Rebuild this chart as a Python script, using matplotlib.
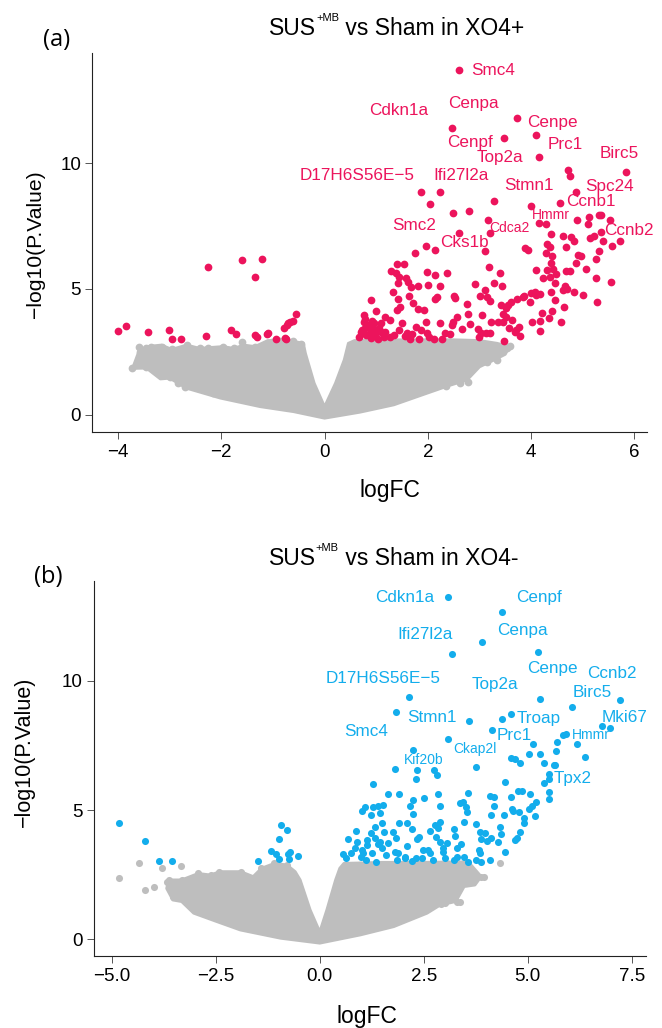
import matplotlib
matplotlib.use('Agg')
import matplotlib.pyplot as plt
import numpy as np

plt.rcParams['font.family'] = ['Liberation Sans', 'DejaVu Sans']

GRAY = '#BEBEBE'
RED = '#EC145C'
BLUE = '#13ADEC'

# ---- panel (a): XO4+ ----
# significant genes (logFC, -log10 P)
A_SIG_X = [
    -4.00, -3.84, -3.42, -3.02, -2.96, -2.78, -2.30, -2.26, -1.82, -1.71,
    -1.60, -1.35, -1.34, -1.31, -1.21, -1.12, -1.09, -0.94, -0.79, -0.76,
    -0.73, -0.70, -0.66, -0.62, -0.55, -0.74,
    2.61, 2.46, 3.72, 3.47, 4.10, 4.16, 4.72, 4.75, 5.84, 1.87,
    2.23, 2.04, 3.28, 2.48, 2.80, 3.99, 4.86, 4.56, 3.17, 3.20,
    2.60, 1.96, 2.13, 1.75, 4.15, 4.29, 4.88, 5.13, 5.11, 5.31,
    5.36, 5.53, 5.35, 5.14, 5.21, 5.40, 5.57, 5.72, 4.39, 4.61,
    4.77, 4.83, 4.31, 4.37, 4.68, 4.91, 4.96, 5.32, 5.26, 5.06,
    4.87, 4.75, 4.68, 5.26, 5.55, 5.00, 4.83, 5.28, 3.10, 3.89,
    3.94, 4.29, 4.40, 4.39, 4.10, 4.31, 4.42, 4.49, 4.37, 4.23,
    4.46, 4.65, 4.70, 4.62, 4.38, 4.46, 4.64, 4.58, 4.34, 4.40,
    4.22, 4.17, 4.17, 4.01, 3.77, 3.71, 3.79, 3.97, 3.86, 3.99,
    4.10, 4.17, 4.08, 3.85, 3.73, 3.62, 3.55, 3.51, 3.41, 3.46,
    3.52, 3.63, 3.46, 3.35, 3.58, 3.68, 3.48, 3.18, 3.40, 3.44,
    3.28, 3.10, 3.15, 3.21, 3.01, 2.92, 2.76, 2.57, 2.77, 2.81,
    2.49, 2.46, 2.66, 2.97, 3.03, 3.12, 3.20, 3.00, 2.34, 2.27,
    2.43, 3.05, 3.23, 1.28, 1.41, 1.53, 1.39, 1.45, 1.58, 1.61,
    1.68, 1.81, 2.00, 1.99, 2.14, 2.23, 2.37, 2.50, 2.53, 2.17,
    2.13, 1.43, 1.32, 1.63, 1.43, 1.47, 1.40, 1.71, 1.81, 1.92,
    0.89, 1.00, 1.17, 1.26, 1.45, 1.59, 1.70, 1.77, 1.86, 1.99,
    1.83, 1.66, 1.55, 1.35, 1.26, 1.10, 0.98, 0.88, 0.79, 0.71,
    0.67, 0.76, 0.77, 0.91, 0.95, 0.98, 1.03, 1.18, 2.23, 2.03,
    2.12, 1.50, 1.96, 0.72, 0.80, 0.85, 0.90, 1.05, 1.10, 1.15,
    0.78, 0.88, 0.93,
]
A_SIG_Y = [
    3.33, 3.53, 3.29, 3.37, 3.02, 3.02, 3.13, 5.86, 3.37, 3.21,
    6.14, 5.46, 3.17, 3.08, 6.21, 3.20, 3.24, 3.00, 3.44, 3.06,
    3.57, 3.66, 3.70, 3.74, 3.99, 3.00,
    13.69, 11.39, 11.80, 11.01, 11.13, 10.25, 9.73, 9.51, 9.64, 8.85,
    8.87, 8.37, 8.49, 8.01, 8.09, 8.30, 8.87, 8.41, 7.73, 7.21,
    7.23, 6.72, 6.56, 6.42, 7.61, 7.59, 7.75, 7.86, 7.59, 7.93,
    7.93, 7.73, 7.28, 7.02, 7.12, 6.92, 6.72, 6.92, 7.18, 7.11,
    7.08, 6.92, 6.80, 6.66, 6.66, 6.35, 6.31, 6.51, 6.21, 5.81,
    6.02, 5.72, 5.72, 5.44, 5.29, 4.77, 4.87, 4.48, 6.50, 6.62,
    6.55, 6.42, 6.31, 6.02, 5.77, 5.74, 5.78, 5.60, 5.46, 5.44,
    5.25, 5.13, 5.01, 4.97, 4.89, 4.58, 4.28, 3.70, 3.86, 4.12,
    4.06, 3.73, 3.34, 3.67, 3.49, 3.37, 3.14, 4.48, 4.73, 4.83,
    4.75, 4.81, 4.87, 4.69, 4.59, 4.48, 4.38, 4.23, 4.38, 3.99,
    3.87, 3.75, 3.67, 3.69, 3.46, 3.29, 2.95, 5.86, 5.65, 5.13,
    5.23, 4.95, 4.69, 4.52, 4.71, 5.21, 4.39, 3.90, 3.99, 3.62,
    3.67, 3.57, 3.40, 3.40, 3.26, 3.24, 3.24, 3.10, 3.26, 3.01,
    3.20, 3.98, 3.67, 5.72, 6.01, 5.99, 5.65, 5.49, 5.44, 5.29,
    5.08, 5.12, 5.15, 5.68, 5.54, 5.12, 5.62, 4.72, 4.66, 4.67,
    4.59, 5.25, 4.89, 4.72, 4.62, 4.28, 4.18, 4.46, 4.22, 4.18,
    4.55, 4.11, 3.89, 3.75, 3.37, 3.24, 3.21, 3.49, 3.37, 3.24,
    3.01, 3.00, 3.13, 3.17, 3.08, 3.30, 3.37, 3.46, 3.46, 3.29,
    3.10, 3.97, 3.69, 3.73, 3.63, 3.18, 3.02, 3.28, 3.63, 3.08,
    3.00, 3.66, 3.70, 3.35, 3.15, 3.55, 3.05, 3.45, 3.65, 3.10,
    3.80, 3.25, 3.40,
]
# outline of the dense non-significant cloud
A_CLOUD_X = [-3.72, -3.60, -3.40, -3.16, -2.96, -2.67, -2.42, -2.17, -1.97, -1.76,
             -1.56, -1.35, -1.10, -0.86, -0.61, -0.41, -0.37, -0.20, 0.00, 0.21,
             0.38, 0.46, 0.58, 1.50, 2.50, 3.00, 3.34, 3.58, 3.50, 3.29,
             3.15, 3.00, 2.76, 2.40, 1.98, 1.34, 0.69, 0.00, -0.60, -1.25,
             -2.02, -2.67, -3.00, -3.18, -3.45]
A_CLOUD_Y = [1.84, 2.50, 2.72, 2.77, 2.60, 2.77, 2.64, 2.68, 2.71, 2.64,
             2.77, 2.71, 2.95, 2.95, 2.92, 2.84, 2.44, 1.25, 0.32, 1.25,
             2.18, 2.84, 2.95, 2.98, 2.98, 2.95, 2.84, 2.71, 2.40, 2.18,
             2.05, 1.90, 1.38, 1.15, 0.85, 0.39, 0.10, -0.14, 0.12, 0.32,
             0.66, 1.05, 1.45, 1.42, 1.85]
# scattered non-significant genes at the cloud edge
A_NS_X = [-3.72, -3.57, -3.45, -3.14, -3.45, -3.29, -3.00, -2.83, 3.54, 3.34,
          2.63, 2.78, 3.60, 3.15, -1.02, -1.60, 2.35, -2.25, -3.60, -3.37,
          -2.96, -2.67, -2.42, -1.97, -1.76, -1.35, -0.86, -0.61, -2.17, -2.70,
          3.30, -0.45]
A_NS_Y = [1.84, 2.51, 2.67, 2.71, 1.91, 2.00, 1.49, 1.25, 2.64, 2.18,
          1.25, 1.30, 2.72, 2.10, 2.90, 2.90, 1.15, 2.64, 2.70, 2.71,
          2.60, 2.77, 2.64, 2.71, 2.64, 2.71, 2.95, 2.92, 0.85, 1.10,
          2.75, 2.80]
A_LABELS = ['Smc4', 'Cenpa', 'Cdkn1a', 'Cenpe', 'Cenpf', 'Prc1', 'Top2a', 'Birc5',
            'D17H6S56E\u22125', 'Ifi27l2a', 'Stmn1', 'Spc24', 'Ccnb1', 'Hmmr',
            'Cdca2', 'Smc2', 'Cks1b', 'Ccnb2']
A_LABEL_X = [3.26, 2.89, 1.44, 4.41, 2.82, 4.67, 3.39, 5.70, 0.62, 2.65,
             3.95, 5.52, 5.15, 4.39, 3.58, 1.74, 2.71, 5.89]
A_LABEL_Y = [13.68, 12.39, 12.09, 11.63, 10.83, 10.75, 10.24, 10.40, 9.53, 9.53,
             9.11, 9.07, 8.46, 7.96, 7.44, 7.52, 6.86, 7.31]
A_SMALL = ['Hmmr', 'Cdca2']

# ---- panel (b): XO4- ----
B_SIG_X = [
    -4.83, -4.20, -3.87, -3.56, -1.49, -1.18, -0.99, -0.94, -0.78, -1.04,
    -0.99, -0.76, -0.71, -0.52, -0.75,
    3.07, 4.39, 3.90, 3.17, 5.25, 7.22, 2.15, 5.29, 6.07, 1.83,
    3.59, 4.39, 4.59, 6.79, 6.97, 3.09, 4.13, 5.84, 5.91, 5.71,
    6.17, 6.38, 3.76, 2.24, 1.81, 2.33, 2.74, 2.82, 2.31, 5.50,
    5.52, 5.40, 5.50, 5.52,
    5.13, 5.03, 5.30, 4.59, 4.69, 4.82, 5.40, 5.63, 5.66, 5.68,
    4.45, 4.77, 4.85, 5.05, 4.60, 4.08, 4.18, 3.56, 3.45, 3.37,
    3.51, 3.54, 4.18, 4.11, 4.43, 4.62, 4.65, 4.80, 5.04, 5.10,
    5.20, 5.18, 4.91, 4.91, 4.82, 4.73, 4.68, 4.36, 4.28, 4.11,
    4.03, 3.98, 3.85, 3.76, 3.88, 3.83, 3.85, 3.76, 3.88, 4.08,
    4.44, 4.32,
    3.46, 3.23, 3.25, 3.40, 3.30, 3.06, 2.89, 2.97, 2.96, 3.30,
    3.02, 2.71, 2.89, 2.83, 2.88, 2.84, 2.76, 2.66, 2.80, 2.51,
    2.25, 2.17, 2.23, 2.10, 1.91, 2.21, 2.38, 2.33, 2.10, 2.31,
    2.05, 1.89, 1.80, 2.49, 2.61,
    1.90, 1.64, 1.28, 1.52, 1.40, 1.29, 1.24, 1.01, 1.09, 1.45,
    1.50, 1.32, 1.24, 1.32, 1.55, 1.75, 1.83, 1.64, 1.50, 1.40,
    1.14, 1.02, 0.86, 0.68, 0.75, 0.84, 0.99, 1.26, 1.10, 1.34,
    1.60, 1.85, 2.05, 2.21, 2.46, 2.66, 3.22, 3.47, 3.57, 0.63,
    0.55, 1.04, 0.89, 1.14, 1.45,
]
B_SIG_Y = [
    4.49, 3.81, 3.02, 3.02, 3.03, 3.43, 3.87, 4.41, 4.23, 3.29,
    3.10, 3.30, 3.39, 3.23, 3.10,
    13.23, 12.67, 11.51, 11.06, 11.11, 9.28, 9.37, 9.30, 8.99, 8.81,
    8.44, 8.54, 8.72, 8.27, 8.18, 7.75, 8.12, 7.91, 7.95, 7.63,
    7.55, 7.07, 6.68, 7.32, 6.61, 6.57, 6.57, 6.36, 6.22, 6.40,
    6.19, 6.04, 5.72, 5.42,
    7.55, 7.17, 7.16, 7.03, 6.99, 6.83, 6.84, 6.75, 6.76, 7.30,
    6.08, 5.75, 5.75, 5.63, 5.52, 5.54, 5.50, 5.68, 5.33, 5.29,
    5.14, 4.92, 5.16, 4.80, 4.80, 5.06, 4.97, 4.92, 5.06, 5.17,
    5.33, 4.79, 4.68, 4.52, 4.17, 3.91, 3.85, 4.06, 3.78, 3.91,
    3.82, 4.10, 4.17, 4.46, 3.87, 3.46, 3.33, 3.07, 3.01, 3.07,
    3.37, 4.36,
    4.55, 4.27, 4.01, 3.70, 3.55, 3.72, 3.75, 3.52, 3.39, 3.20,
    3.14, 3.07, 4.55, 4.30, 5.17, 5.63, 4.43, 4.21, 3.97, 5.46,
    5.39, 5.17, 4.85, 4.49, 4.49, 4.26, 3.95, 3.87, 3.63, 3.16,
    3.16, 3.33, 3.39, 3.46, 3.46,
    5.63, 5.63, 6.00, 5.20, 5.16, 5.11, 4.81, 4.98, 5.14, 4.88,
    4.49, 4.36, 4.10, 3.91, 4.17, 4.17, 3.91, 3.74, 3.52, 3.69,
    3.65, 3.46, 4.21, 3.87, 3.33, 3.52, 3.17, 3.33, 3.07, 3.01,
    3.26, 3.07, 3.20, 3.05, 3.14, 3.33, 3.07, 3.20, 3.01, 3.14,
    3.30, 3.33, 3.78, 3.85, 3.78,
]
B_CLOUD_X = [-3.68, -3.63, -3.32, -2.92, -2.62, -2.41, -1.90, -1.60, -1.40, -1.09,
             -0.79, -0.59, -0.47, -0.23, 0.00, 0.17, 0.38, 0.48, 0.58, 1.50,
             2.50, 3.57, 3.88, 3.73, 3.47, 3.27, 2.90, 2.58, 1.78, 0.98,
             0.00, -0.94, -1.91, -2.50, -3.03, -3.32, -3.53]
B_CLOUD_Y = [1.97, 2.30, 2.30, 2.55, 2.49, 2.62, 2.62, 2.43, 2.75, 2.94,
             2.88, 2.62, 2.30, 1.14, 0.29, 1.14, 2.30, 2.75, 2.94, 2.98,
             2.98, 3.00, 2.43, 2.10, 2.04, 1.46, 1.33, 1.01, 0.49, 0.17,
             -0.15, 0.04, 0.36, 0.70, 1.01, 1.46, 1.52]
B_NS_X = [-4.34, -4.82, -4.19, -3.98, -3.78, -3.34, -3.68, -3.53, 3.30, 2.92,
          3.94, 4.33, 3.74, 3.38, 3.00, -3.63, -2.92, -2.62, -2.41, -1.90,
          -1.40, -1.09, -0.79, -3.32, 3.88]
B_NS_Y = [2.94, 2.39, 1.91, 2.04, 2.75, 2.84, 2.23, 1.65, 1.46, 1.37,
          2.42, 2.94, 2.45, 1.46, 1.39, 2.30, 2.55, 2.49, 2.62, 2.62,
          2.75, 2.94, 2.88, 2.30, 2.43]
B_LABELS = ['Cdkn1a', 'Cenpf', 'Ifi27l2a', 'Cenpa', 'Cenpe', 'Ccnb2', 'D17H6S56E\u22125',
            'Top2a', 'Birc5', 'Stmn1', 'Troap', 'Mki67', 'Smc4', 'Prc1', 'Hmmr',
            'Ckap2l', 'Kif20b', 'Tpx2']
B_LABEL_X = [2.03, 5.28, 2.52, 4.86, 5.59, 7.02, 1.51, 4.21, 6.54, 2.70,
             5.25, 7.33, 1.12, 4.67, 6.51, 3.73, 2.49, 6.07]
B_LABEL_Y = [13.24, 13.24, 11.78, 11.94, 10.49, 10.30, 10.10, 9.88, 9.56, 8.59,
             8.56, 8.59, 8.04, 7.87, 7.91, 7.36, 6.94, 6.21]
B_SMALL = ['Hmmr', 'Ckap2l', 'Kif20b']

W, H = 662, 1028


def fx(px):
    return px / W


def fy(py):
    return 1 - py / H


def draw_volcano(ax, cloud_x, cloud_y, ns_x, ns_y, sig_x, sig_y, color,
                 labels, lab_x, lab_y, small, dot_size):
    """一个火山图面板"""
    ax.fill(cloud_x, cloud_y, facecolor=GRAY, edgecolor=GRAY, linewidth=2,
            joinstyle='round', zorder=1)
    ax.scatter(ns_x, ns_y, s=dot_size, c=GRAY, linewidths=0, zorder=2)
    ax.scatter(sig_x, sig_y, s=dot_size, c=color, linewidths=0, zorder=3)
    for name, x, y in zip(labels, lab_x, lab_y):
        ax.text(x, y, name, color=color, fontsize=10 if name in small else 12.3,
                ha='center', va='center', zorder=4)

    for side in ('top', 'right'):
        ax.spines[side].set_visible(False)
    for side in ('left', 'bottom'):
        ax.spines[side].set_linewidth(0.8)
        ax.spines[side].set_color('#222222')
    ax.tick_params(length=5, width=0.7, color='#555555', labelsize=13.5)
    ax.tick_params(axis='x', pad=3.5)
    ax.tick_params(axis='y', pad=3.0)
    ax.set_yticks([0, 5, 10])


def sup_title(fig, cx, base_y, pre, sup, post, size=16.5, sup_size=8, rise=14):
    """标题：SUS + 上标 +MB + 其余文字，整体居中"""
    r = fig.canvas.get_renderer()
    parts = [fig.text(0, 0, pre, fontsize=size),
             fig.text(0, 0, sup, fontsize=sup_size),
             fig.text(0, 0, post, fontsize=size)]
    widths = [p.get_window_extent(r).width for p in parts]
    x = cx - sum(widths) / 2
    for p, w, dy in zip(parts, widths, (0, rise, 0)):
        p.set_position((fx(x), fy(base_y - dy)))
        p.set_va('baseline')
        x += w


fig = plt.figure(figsize=(W / 100, H / 100), dpi=100)

ax_a = fig.add_axes([fx(92.3), fy(431.7), (647.3 - 92.3) / W, (431.7 - 53.3) / H])
draw_volcano(ax_a, A_CLOUD_X, A_CLOUD_Y, A_NS_X, A_NS_Y, A_SIG_X, A_SIG_Y, RED,
             A_LABELS, A_LABEL_X, A_LABEL_Y, A_SMALL, 31)
ax_a.set_xlim(-4.498, 6.25)
ax_a.set_ylim(-0.676, 14.37)
ax_a.set_xticks([-4, -2, 0, 2, 4, 6])

ax_b = fig.add_axes([fx(94), fy(956), (646 - 94) / W, (956 - 580.7) / H])
draw_volcano(ax_b, B_CLOUD_X, B_CLOUD_Y, B_NS_X, B_NS_Y, B_SIG_X, B_SIG_Y, BLUE,
             B_LABELS, B_LABEL_X, B_LABEL_Y, B_SMALL, 26)
ax_b.set_xlim(-5.425, 7.84)
ax_b.set_ylim(-0.646, 13.88)
ax_b.set_xticks([-5, -2.5, 0, 2.5, 5, 7.5])
ax_b.set_xticklabels(['\u22125.0', '\u22122.5', '0.0', '2.5', '5.0', '7.5'])

# ---- 标题与轴标签 ----
sup_title(fig, 397, 35, 'SUS', '+MB', ' vs Sham in XO4+')
sup_title(fig, 393.5, 565, 'SUS', '+MB', ' vs Sham in XO4-')
fig.text(fx(57), fy(40), '(a)', fontsize=17, ha='center', va='center',
         family=['Open Sans', 'DejaVu Sans'])
fig.text(fx(48.5), fy(577), '(b)', fontsize=17, ha='center', va='center',
         family=['Open Sans', 'DejaVu Sans'])
fig.text(fx(390), fy(490), 'logFC', fontsize=16.5, ha='center', va='center')
fig.text(fx(367), fy(1016), 'logFC', fontsize=16.5, ha='center', va='center')
fig.text(fx(36), fy(244), '\u2212log10(P.Value)', fontsize=15.2, rotation=90,
         ha='center', va='center')
fig.text(fx(24.5), fy(751.5), '\u2212log10(P.Value)', fontsize=15.5, rotation=90,
         ha='center', va='center')

fig.savefig('out.png', dpi=100)
plt.close(fig)
